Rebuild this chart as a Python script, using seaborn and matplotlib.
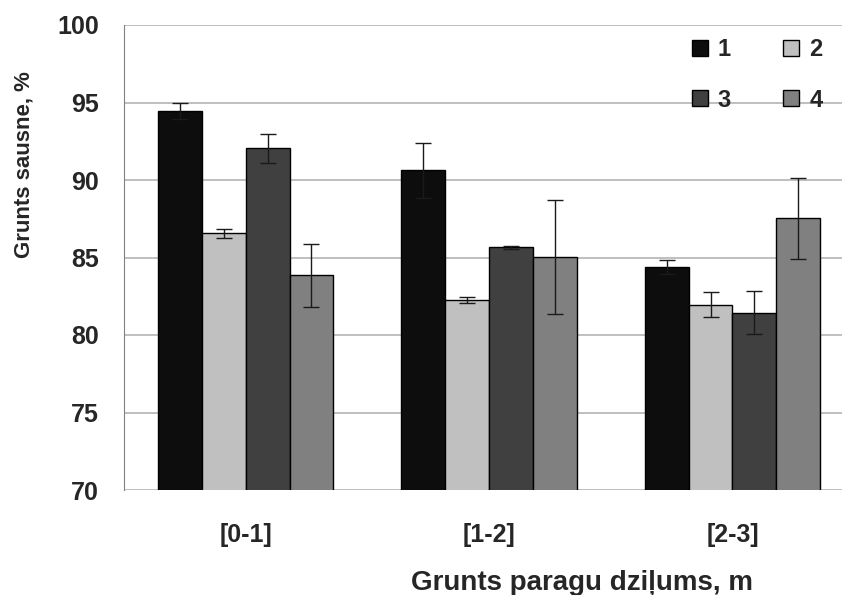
import numpy as np
import pandas as pd
import matplotlib
matplotlib.use("Agg")
import matplotlib.pyplot as plt
from matplotlib.lines import Line2D
import seaborn as sns

# data
depths = ["[0-1]", "[1-2]", "[2-3]"]
series = ["1", "2", "3", "4"]
values_1 = [94.45, 90.62, 84.40]
values_2 = [86.55, 82.25, 81.95]
values_3 = [92.05, 85.66, 81.45]
values_4 = [83.85, 85.02, 87.52]
err_1 = [0.50, 1.75, 0.45]
err_2 = [0.28, 0.18, 0.80]
err_3 = [0.95, 0.08, 1.40]
err_4 = [2.02, 3.66, 2.62]
colors = ["#0d0d0d", "#c0c0c0", "#404040", "#808080"]

all_values = [values_1, values_2, values_3, values_4]
all_errs = [err_1, err_2, err_3, err_4]

rows = []
for s, vals in zip(series, all_values):
    for d, v in zip(depths, vals):
        rows.append({"depth": d, "series": s, "value": v})
df = pd.DataFrame(rows)

sns.set_style("white")
plt.rcParams["font.family"] = ["Liberation Sans", "DejaVu Sans"]
plt.rcParams["font.weight"] = "bold"

fig = plt.figure(figsize=(8.42, 5.95), dpi=100)
ax = fig.add_axes([124 / 842, 1 - 490 / 595, 718 / 842, 465 / 595])

# grid first so the bars sit on top
ax.set_axisbelow(True)
ax.yaxis.grid(True, color="#b4b4b4", linewidth=1.2)

sns.barplot(data=df, x="depth", y="value", hue="series", palette=colors,
            width=0.72, edgecolor="black", linewidth=1.0, errorbar=None,
            legend=False, ax=ax)

# error bars at the bar centres
for cont, errs in zip(ax.containers, all_errs):
    xs = [p.get_x() + p.get_width() / 2 for p in cont.patches]
    tops = [p.get_y() + p.get_height() for p in cont.patches]
    ax.errorbar(xs, tops, yerr=errs, fmt="none", ecolor="#1a1a1a",
                elinewidth=1.0, capsize=6, capthick=1.0)

ax.set_ylim(70, 100)
ax.set_yticks(np.arange(70, 101, 5))
ax.set_xlim(-0.5, 2.45)

for side in ["top", "right", "bottom"]:
    ax.spines[side].set_visible(False)
ax.spines["left"].set_color("#808080")

ax.tick_params(axis="y", length=8, color="#808080", pad=10, labelsize=18)
ax.tick_params(axis="x", length=0, pad=24, labelsize=18)
for lab in ax.get_xticklabels() + ax.get_yticklabels():
    lab.set_fontweight("bold")

ax.set_ylabel("Grunts sausne, %", fontsize=16, fontweight="bold")
ax.yaxis.set_label_coords(-0.124, 0.70)
ax.set_xlabel("Grunts paragu dziļums, m", fontsize=20, fontweight="bold")
ax.xaxis.set_label_coords(0.638, -0.172)

# legend laid out row-wise: 1 2 / 3 4
order = [0, 2, 1, 3]
handles = [Line2D([], [], marker="s", linestyle="none", markersize=11,
                  markerfacecolor=colors[i], markeredgecolor="black",
                  markeredgewidth=1.0) for i in order]
ax.legend(handles, [series[i] for i in order], ncol=2, loc="upper left",
          bbox_to_anchor=(0.756, 1.017), frameon=False,
          prop={"size": 17, "weight": "bold"}, labelspacing=1.16,
          columnspacing=2.05, handletextpad=0.26, handlelength=1.0)

fig.savefig("out.png", dpi=100)
